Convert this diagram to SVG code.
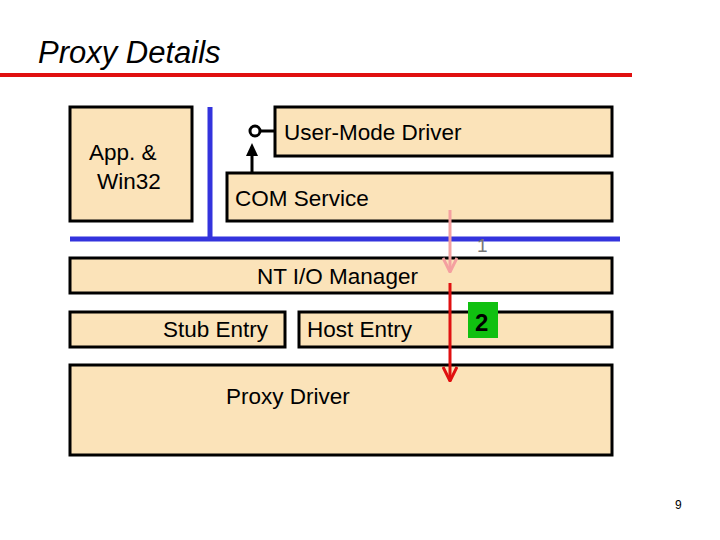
<svg xmlns="http://www.w3.org/2000/svg" width="720" height="540" viewBox="0 0 720 540">
<style>
.b{fill:#fbe3b9;stroke:#000;stroke-width:3}
.t{font-family:"Liberation Sans",Arial,sans-serif;font-size:22.5px;fill:#000}
</style>
<defs>
<marker id="ap" markerWidth="16" markerHeight="16" refX="8" refY="15" viewBox="0 0 16 16" markerUnits="userSpaceOnUse"><path d="M1,1 L8,15 L15,1" fill="none" stroke="#f4a0a0" stroke-width="3"/></marker>
<marker id="ar" markerWidth="16" markerHeight="16" refX="8" refY="15" viewBox="0 0 16 16" markerUnits="userSpaceOnUse"><path d="M1,1 L8,15 L15,1" fill="none" stroke="#e01010" stroke-width="3"/></marker>
</defs>
<rect width="720" height="540" fill="#fff"/>
<text x="38" y="63" font-family="Liberation Sans,Arial,sans-serif" font-style="italic" font-size="31">Proxy Details</text>
<line x1="0" y1="75" x2="632" y2="75" stroke="#e01010" stroke-width="4"/>
<g id="app"><rect class="b" x="70" y="107" width="122" height="114"/><text class="t" x="89" y="160">App. &amp;</text><text class="t" x="97" y="189">Win32</text></g>
<g id="umd"><rect class="b" x="275" y="107" width="337" height="49"/><text class="t" x="284" y="140">User-Mode Driver</text></g>
<g id="com"><rect class="b" x="227" y="173" width="385" height="48"/><text class="t" x="235" y="206">COM Service</text></g>
<g id="nt"><rect class="b" x="70" y="258" width="542" height="35"/><text class="t" x="257" y="284">NT I/O Manager</text></g>
<g id="stub"><rect class="b" x="70" y="312" width="215" height="35"/><text class="t" x="163" y="337">Stub Entry</text></g>
<g id="host"><rect class="b" x="299" y="312" width="313" height="35"/><text class="t" x="307" y="337">Host Entry</text></g>
<g id="proxy"><rect class="b" x="70" y="365" width="542" height="90"/><text class="t" x="226" y="404">Proxy Driver</text></g>
<g id="connectors">
<polyline points="210,107 210,239" fill="none" stroke="#3333dd" stroke-width="5"/>
<line x1="70" y1="239" x2="620" y2="239" stroke="#3333dd" stroke-width="5"/>
<line x1="261" y1="131" x2="275" y2="131" stroke="#000" stroke-width="3"/>
<circle cx="255" cy="131" r="5" fill="#fff" stroke="#000" stroke-width="3"/>
<line x1="252" y1="173" x2="252" y2="154" stroke="#000" stroke-width="3"/>
<path d="M246,156 L252,143 L258,156Z" fill="#000"/>
<line x1="450" y1="210" x2="450" y2="272" stroke="#f4a0a0" stroke-width="3" marker-end="url(#ap)"/>
<line x1="450" y1="283" x2="450" y2="381" stroke="#e01010" stroke-width="3" marker-end="url(#ar)"/>
</g>
<text x="477" y="252" font-family="Liberation Sans,Arial,sans-serif" font-size="19" fill="#777">1</text>
<g id="two"><rect x="468" y="302" width="30" height="36" fill="#10c010"/><text x="475" y="331" font-family="Liberation Sans,Arial,sans-serif" font-weight="bold" font-size="24">2</text></g>
<text x="675" y="509" font-family="Liberation Sans,Arial,sans-serif" font-size="12">9</text>
</svg>
